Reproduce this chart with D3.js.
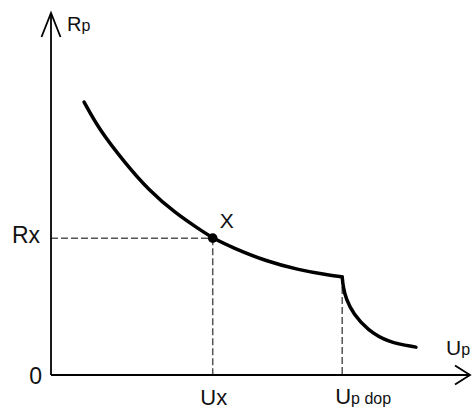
<!DOCTYPE html>
<html>
<head>
<meta charset="utf-8">
<script src="https://cdn.jsdelivr.net/npm/d3@7"></script>
<style>
  html, body { margin: 0; padding: 0; background: #fff; }
  text { font-family: "Liberation Sans", Arial, sans-serif; fill: #111; }
</style>
</head>
<body>
<svg id="chart"></svg>
<script>
// main branch of Rp(Up), up to Up dop
var mainU = [0.79, 1.15, 1.76, 2.32, 2.99, 3.55, 3.86, 4.33, 5.14, 5.93, 6.57, 6.95];
var mainR = [7.54, 6.78, 5.87, 5.12, 4.45, 4.02, 3.78, 3.52, 3.14, 2.90, 2.77, 2.71];
// branch after Up dop
var tailU = [6.95, 6.97, 7.04, 7.22, 7.55, 8.05, 8.71];
var tailR = [2.71, 2.45, 2.10, 1.68, 1.25, 0.90, 0.77];
// marked point X and the limit voltage
var pointU = [3.86];
var pointR = [3.78];
var limitU = [6.95];
var limitR = [2.71];

var svgWidth = 472;
var svgHeight = 409;

var svg = d3.select('#chart')
    .attr('width', svgWidth)
    .attr('height', svgHeight);

var x = d3.scaleLinear().domain([0, 10]).range([51, 470]);
var y = d3.scaleLinear().domain([0, 10]).range([375, 13]);

function zip(us, rs) {
  return us.map(function(u, i) { return { u: u, r: rs[i] }; });
}

var line = d3.line()
    .x(function(d) { return x(d.u); })
    .y(function(d) { return y(d.r); })
    .curve(d3.curveBasis);

// dashed guides
var dash = svg.append('g')
    .attr('stroke', '#555')
    .attr('stroke-width', 1.5)
    .attr('stroke-dasharray', '7,3')
    .attr('fill', 'none');

dash.append('line')
    .attr('x1', x(0)).attr('y1', y(pointR[0]))
    .attr('x2', x(pointU[0])).attr('y2', y(pointR[0]));
dash.append('line')
    .attr('x1', x(pointU[0])).attr('y1', y(pointR[0]))
    .attr('x2', x(pointU[0])).attr('y2', y(0));
dash.append('line')
    .attr('x1', x(limitU[0])).attr('y1', y(limitR[0]))
    .attr('x2', x(limitU[0])).attr('y2', y(0));

// axes with open arrowheads
var axes = svg.append('g')
    .attr('stroke', '#000')
    .attr('stroke-width', 1.8)
    .attr('fill', 'none');

axes.append('path')
    .attr('d', 'M' + x(0) + ',' + y(0) + 'V' + y(10));
axes.append('path')
    .attr('d', 'M' + x(0) + ',' + y(0) + 'H' + x(10));
axes.append('path')
    .attr('d', 'M' + (x(0) - 9.5) + ',' + (y(10) + 24) + 'L' + x(0) + ',' + y(10) + 'L' + (x(0) + 9.5) + ',' + (y(10) + 24));
axes.append('path')
    .attr('d', 'M' + (x(10) - 15) + ',' + (y(0) - 9.5) + 'L' + x(10) + ',' + y(0) + 'L' + (x(10) - 15) + ',' + (y(0) + 9.5));

// the curve
svg.append('path')
    .datum(zip(mainU, mainR))
    .attr('fill', 'none')
    .attr('stroke', '#000')
    .attr('stroke-width', 3.5)
    .attr('stroke-linecap', 'round')
    .attr('stroke-linejoin', 'round')
    .attr('d', line);

svg.append('path')
    .datum(zip(tailU, tailR))
    .attr('fill', 'none')
    .attr('stroke', '#000')
    .attr('stroke-width', 3.5)
    .attr('stroke-linecap', 'round')
    .attr('stroke-linejoin', 'round')
    .attr('d', line);

svg.selectAll('circle.pt')
    .data(zip(pointU, pointR))
    .enter().append('circle')
    .attr('class', 'pt')
    .attr('cx', function(d) { return x(d.u); })
    .attr('cy', function(d) { return y(d.r); })
    .attr('r', 4.8)
    .attr('fill', '#000');

// labels
function label(tx, ty, main, sub, size, anchor) {
  var t = svg.append('text')
      .attr('x', tx)
      .attr('y', ty)
      .attr('text-anchor', anchor || 'start')
      .style('font-size', size + 'px');
  t.append('tspan').text(main);
  if (sub) t.append('tspan').style('font-size', '16px').text(sub);
  return t;
}

label(x(0) + 16, y(10) + 18, 'R', 'p', 20);
label(x(0) - 11, y(pointR[0]) + 5, 'Rx', null, 23, 'end');
label(x(0) - 9, y(0) + 9, '0', null, 23, 'end');
label(x(pointU[0]) + 7, y(pointR[0]) - 10, 'X', null, 21);
label(x(pointU[0]) + 1, y(0) + 30, 'Ux', null, 22, 'middle');
label(x(limitU[0]) - 7, y(0) + 29, 'U', 'p dop', 22);
label(x(10) - 24, y(0) - 20, 'U', 'p', 21);
</script>
</body>
</html>
